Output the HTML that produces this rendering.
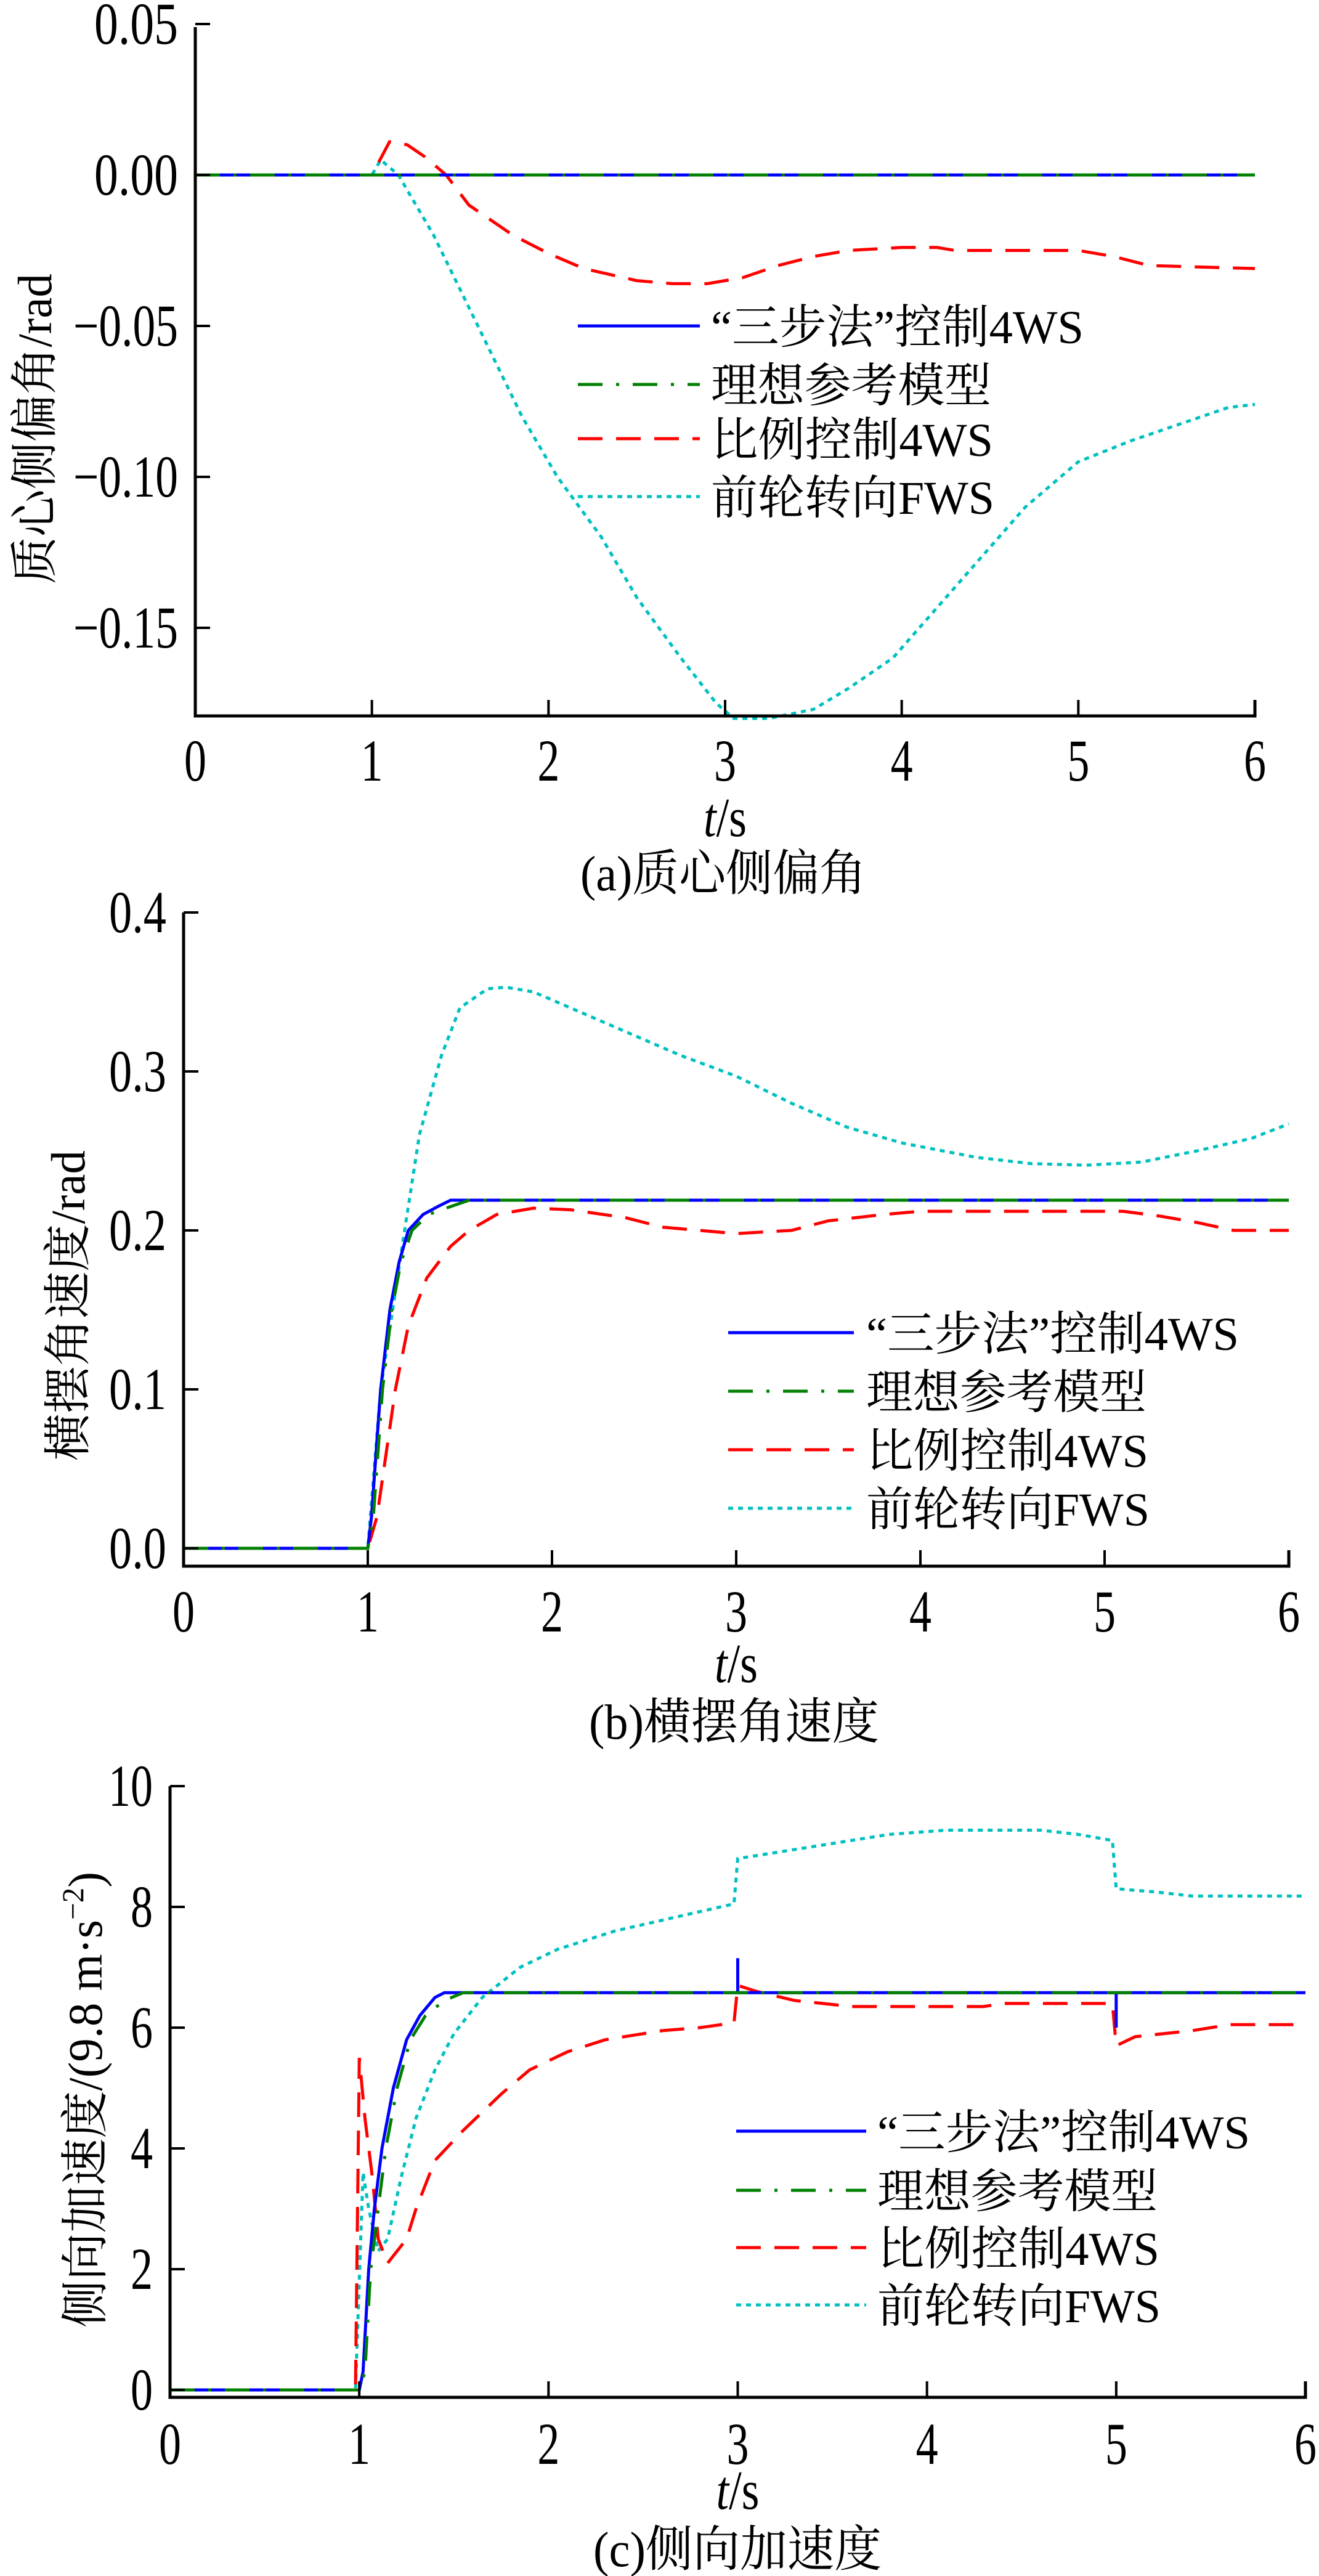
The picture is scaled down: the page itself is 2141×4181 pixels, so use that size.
<!DOCTYPE html>
<html><head><meta charset="utf-8"><style>
html,body{margin:0;padding:0;background:#fff;}
svg{display:block;}
text{font-family:"Liberation Serif","Noto Serif CJK SC","Noto Sans CJK SC",serif;fill:#000;}
</style></head><body>
<svg id="fig" width="2141" height="4181" viewBox="0 0 2141 4181" xmlns="http://www.w3.org/2000/svg"></svg>
<script>
// ---------- data ----------
const seriesNames = ['“三步法”控制4WS','理想参考模型','比例控制4WS','前轮转向FWS'];
const xTicks = [0,1,2,3,4,5,6];
// chart a: sideslip angle
const aTicksY = [0.05,0.00,-0.05,-0.10,-0.15];
const aTickLabels = ['0.05','0.00','−0.05','−0.10','−0.15'];
const aBlueT = [0,6];           const aBlueV = [0,0];
const aGreenT = [0,6];          const aGreenV = [0,0];
const aRedT = [0,1.0,1.1,1.2,1.3,1.42,1.55,1.8,2.0,2.2,2.5,2.7,2.9,3.1,3.3,3.5,3.7,4.0,4.2,4.3,5.0,5.2,5.4,6.0];
const aRedV = [0,0,0.011,0.010,0.006,0,-0.010,-0.020,-0.026,-0.031,-0.035,-0.036,-0.036,-0.034,-0.030,-0.027,-0.025,-0.024,-0.024,-0.025,-0.025,-0.027,-0.030,-0.031];
const aCyanT = [0,1.0,1.05,1.15,1.35,1.6,1.85,2.05,2.3,2.5,2.75,2.95,3.05,3.25,3.5,3.7,3.95,4.1,4.4,4.7,5.0,5.3,5.6,5.85,6.0];
const aCyanV = [0,0,0.005,0,-0.020,-0.050,-0.080,-0.100,-0.120,-0.140,-0.160,-0.175,-0.180,-0.180,-0.177,-0.170,-0.160,-0.150,-0.130,-0.110,-0.095,-0.088,-0.082,-0.077,-0.076];
// chart b: yaw rate
const bTicksY = [0.4,0.3,0.2,0.1,0.0];
const bTickLabels = ['0.4','0.3','0.2','0.1','0.0'];
const bBlueT = [0,1.0,1.02,1.07,1.12,1.17,1.22,1.3,1.38,1.45,6.0];
const bBlueV = [0,0,0.02,0.10,0.15,0.18,0.20,0.21,0.215,0.219,0.219];
const bGreenT = [0,1.0,1.03,1.08,1.13,1.18,1.24,1.33,1.45,1.55,6.0];
const bGreenV = [0,0,0.02,0.10,0.15,0.18,0.20,0.21,0.215,0.219,0.219];
const bRedT = [0,1.0,1.05,1.1,1.15,1.22,1.32,1.45,1.55,1.7,1.9,2.1,2.4,2.6,3.0,3.3,3.5,3.8,4.0,5.1,5.3,5.5,5.7,6.0];
const bRedV = [0,0,0.02,0.06,0.10,0.14,0.17,0.19,0.20,0.21,0.214,0.213,0.208,0.202,0.198,0.200,0.206,0.210,0.212,0.212,0.209,0.205,0.200,0.200];
const bCyanT = [0,1.0,1.07,1.2,1.28,1.4,1.5,1.65,1.75,1.9,2.1,2.4,2.7,3.0,3.3,3.6,3.9,4.3,4.6,4.9,5.2,5.5,5.8,6.0];
const bCyanV = [0,0,0.10,0.20,0.26,0.31,0.34,0.352,0.353,0.350,0.340,0.325,0.310,0.297,0.280,0.265,0.255,0.246,0.242,0.241,0.243,0.250,0.258,0.267];
// chart c: lateral acceleration
const cTicksY = [10,8,6,4,2,0];
const cTickLabels = ['10','8','6','4','2','0'];
const cBlueT = [0,1.0,1.02,1.05,1.08,1.12,1.18,1.25,1.32,1.4,1.45,3.0,3.0,3.0,5.0,5.0,5.0,6.0];
const cBlueV = [0,0,0.3,2.0,3.0,4.0,5.0,5.8,6.2,6.5,6.58,6.58,7.15,6.58,6.58,6.0,6.58,6.58];
const cGreenT = [0,1.0,1.03,1.06,1.1,1.14,1.2,1.27,1.35,1.45,1.55,6.0];
const cGreenV = [0,0,0.3,2.0,3.0,4.0,5.0,5.8,6.2,6.45,6.58,6.58];
const cRedT = [0,0.98,1.0,1.03,1.07,1.1,1.15,1.25,1.3,1.4,1.55,1.75,1.9,2.1,2.3,2.6,2.8,2.98,3.0,3.1,3.3,3.6,4.3,4.4,4.98,5.0,5.1,5.4,5.6,6.0];
const cRedV = [0,0,5.5,4.5,3.5,2.5,2.1,2.5,3.0,3.8,4.3,4.9,5.3,5.6,5.8,5.95,6.0,6.08,6.7,6.6,6.45,6.35,6.35,6.4,6.4,5.7,5.85,5.95,6.05,6.05];
const cCyanT = [0,0.98,1.02,1.05,1.1,1.15,1.22,1.3,1.4,1.5,1.65,1.85,2.05,2.35,2.7,2.98,3.0,3.2,3.5,3.8,4.1,4.6,4.8,4.98,5.0,5.2,5.4,6.0];
const cCyanV = [0,0,3.6,3.0,2.3,2.5,3.5,4.5,5.3,5.9,6.5,7.0,7.3,7.6,7.85,8.05,8.8,8.9,9.05,9.2,9.27,9.27,9.2,9.1,8.3,8.25,8.18,8.18];

// ---------- rendering ----------
const NS='http://www.w3.org/2000/svg';
const svg=document.getElementById('fig');
function mk(tag,parent){const e=document.createElementNS(NS,tag);parent.appendChild(e);return e;}
const styles=[
 {c:'#0000ff',d:''},
 {c:'#008000',d:'40 22 5 22'},
 {c:'#ff0000',d:'40 22'},
 {c:'#00c0c0',d:'8 8'}
];
function chart(cfg){
  const g=mk('g',svg);
  
  
  const xs=t=>cfg.x0+(cfg.x1-cfg.x0)*t/6;
  const ys=v=>cfg.yA+(v-cfg.vA)*(cfg.yB-cfg.yA)/(cfg.vB-cfg.vA);
  const series=[[cfg.s[0],cfg.s[1]],[cfg.s[2],cfg.s[3]],[cfg.s[4],cfg.s[5]],[cfg.s[6],cfg.s[7]]];
  const order=[3,2,0,1];
  order.forEach(i=>{
    const [T,V]=series[i];
    const p=mk('polyline',g);
    
    
    p.setAttribute('points',T.map((t,k)=>xs(t).toFixed(1)+','+ys(V[k]).toFixed(1)).join(' '));
    p.setAttribute('fill','none');p.setAttribute('stroke',styles[i].c);p.setAttribute('stroke-width','5');
    if(styles[i].d)p.setAttribute('stroke-dasharray',styles[i].d);
  });
  const ax=mk('path',g);
  
  
  ax.setAttribute('d',`M${cfg.x0},${cfg.yTop} V${cfg.yBot} H${cfg.x1} V${cfg.yBot-26}`);
  ax.setAttribute('fill','none');ax.setAttribute('stroke','#000');ax.setAttribute('stroke-width','5');
  xTicks.forEach(t=>{
    const l=mk('line',g);
    
    
    l.setAttribute('x1',xs(t));l.setAttribute('x2',xs(t));l.setAttribute('y1',cfg.yBot);l.setAttribute('y2',cfg.yBot-26);
    l.setAttribute('stroke','#000');l.setAttribute('stroke-width','4');
    const tx=mk('text',g);
    
    
    tx.setAttribute('x',xs(t));tx.setAttribute('y',cfg.xLabY+32);tx.setAttribute('text-anchor','middle');
    tx.setAttribute('font-size','96');
    tx.setAttribute('textLength',36);tx.setAttribute('lengthAdjust','spacingAndGlyphs');
    tx.textContent=String(t);
  });
  cfg.ty.forEach((v,k)=>{
    const l=mk('line',g);
    
    
    l.setAttribute('x1',cfg.x0);l.setAttribute('x2',cfg.x0+24);l.setAttribute('y1',ys(v));l.setAttribute('y2',ys(v));
    l.setAttribute('stroke','#000');l.setAttribute('stroke-width','4');
    const tx=mk('text',g);
    
    
    tx.setAttribute('x',cfg.x0-28);tx.setAttribute('y',ys(v)+32);tx.setAttribute('text-anchor','end');
    tx.setAttribute('font-size','96');
    tx.setAttribute('textLength',cfg.tl[k].length*cfg.charW);
    tx.setAttribute('lengthAdjust','spacingAndGlyphs');
    tx.textContent=cfg.tl[k];
  });
  const xt=mk('text',g);
  
  
  xt.setAttribute('x',(cfg.x0+cfg.x1)/2);xt.setAttribute('y',cfg.xTitY+30);xt.setAttribute('text-anchor','middle');
  xt.setAttribute('font-size','90');
  xt.setAttribute('textLength',70);xt.setAttribute('lengthAdjust','spacingAndGlyphs');
  xt.innerHTML='<tspan font-style="italic">t</tspan>/s';
  const cp=mk('text',g);
  
  
  cp.setAttribute('x',cfg.capX0);cp.setAttribute('y',cfg.capY+30);cp.setAttribute('font-size','80');
  cp.setAttribute('textLength',cfg.capW);cp.setAttribute('lengthAdjust','spacingAndGlyphs');
  cp.textContent=cfg.cap;
  const yt=mk('text',g);
  
  
  const cy=(cfg.ylY0+cfg.ylY1)/2;
  yt.setAttribute('transform',`translate(${cfg.ylX+28},${cy}) rotate(-90)`);
  yt.setAttribute('text-anchor','middle');yt.setAttribute('font-size','78');
  yt.setAttribute('textLength',cfg.ylY1-cfg.ylY0);yt.setAttribute('lengthAdjust','spacingAndGlyphs');
  yt.innerHTML=cfg.ylab;
  const lg=mk('g',g);
  
  
  cfg.lRows.forEach((ry,i)=>{
    const l=mk('line',lg);
    
    
    l.setAttribute('x1',cfg.lx0);l.setAttribute('x2',cfg.lx1);l.setAttribute('y1',ry);l.setAttribute('y2',ry);
    l.setAttribute('stroke',styles[i].c);l.setAttribute('stroke-width','5');
    if(styles[i].d)l.setAttribute('stroke-dasharray',styles[i].d);
    const tx=mk('text',lg);
    
    
    tx.setAttribute('x',cfg.ltx);tx.setAttribute('y',ry+28);tx.setAttribute('font-size','76');
    tx.setAttribute('textLength',cfg.lW[i]);tx.setAttribute('lengthAdjust','spacingAndGlyphs');
    tx.textContent=seriesNames[i];
  });
}
chart({name:'chart-sideslip',x0:317,x1:2037,yTop:44,yBot:1162,vA:0,yA:284,vB:-0.05,yB:529,
  s:[aBlueT,aBlueV,aGreenT,aGreenV,aRedT,aRedV,aCyanT,aCyanV],ty:aTicksY,tl:aTickLabels,charW:34,
  xLabY:1235,xTitY:1327,capY:1415,capX0:942,capW:464,cap:'(a)质心侧偏角',
  ylX:55,ylY0:444,ylY1:948,ylab:'质心侧偏角/rad',
  lRows:[529,624,712,806],lx0:938,lx1:1136,ltx:1154,lW:[605,455,458,460]});
chart({name:'chart-yaw-rate',x0:298,x1:2092,yTop:1481,yBot:2542,vA:0,yA:2513,vB:0.4,yB:1481,
  s:[bBlueT,bBlueV,bGreenT,bGreenV,bRedT,bRedV,bCyanT,bCyanV],ty:bTicksY,tl:bTickLabels,charW:31,
  xLabY:2616,xTitY:2700,capY:2792,capX0:956,capW:471,cap:'(b)横摆角速度',
  ylX:109,ylY0:1867,ylY1:2371,ylab:'横摆角速度/rad',
  lRows:[2163,2258,2353,2448],lx0:1182,lx1:1386,ltx:1406,lW:[605,455,458,460]});
chart({name:'chart-lateral-accel',x0:276,x1:2119,yTop:2899,yBot:3891,vA:0,yA:3879,vB:10,yB:2899,
  s:[cBlueT,cBlueV,cGreenT,cGreenV,cRedT,cRedV,cCyanT,cCyanV],ty:cTicksY,tl:cTickLabels,charW:36,
  xLabY:3967,xTitY:4042,capY:4135,capX0:963,capW:468,cap:'(c)侧向加速度',
  ylX:137,ylY0:3038,ylY1:3778,ylab:'侧向加速度/(9.8 m·s<tspan dy="-30" font-size="50">−2</tspan><tspan dy="30">)</tspan>',
  lRows:[3459,3555,3648,3741],lx0:1195,lx1:1406,ltx:1424,lW:[605,455,458,460]});
</script>
</body></html>
